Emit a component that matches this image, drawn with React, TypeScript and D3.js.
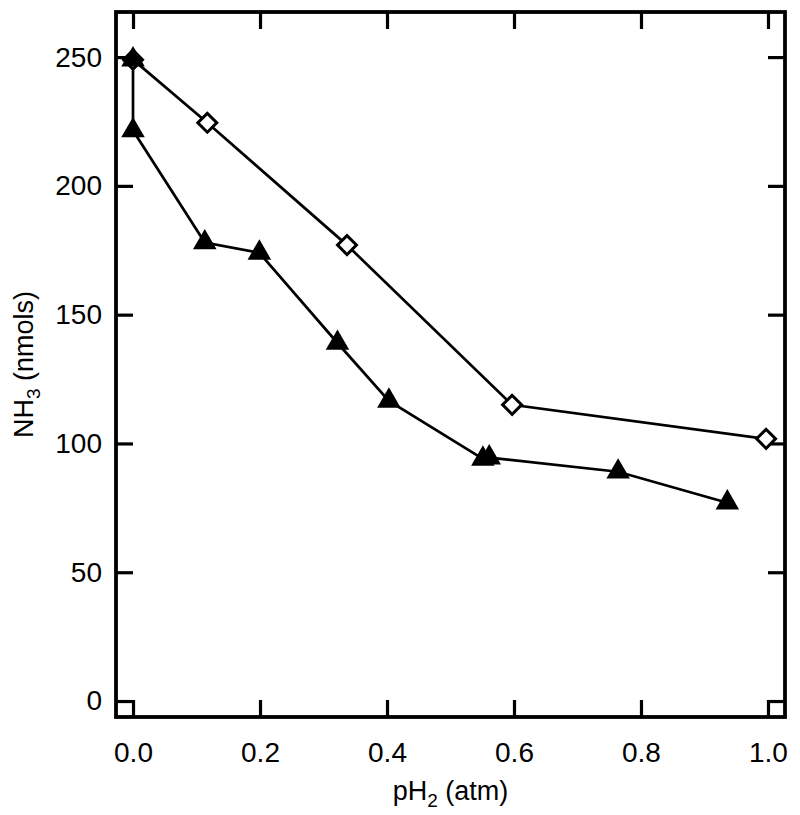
import React, { useEffect, useRef } from 'react';
import * as d3 from 'd3';

// open diamonds
const diamondX = [0, 0.117, 0.337, 0.597, 0.997];
const diamondY = [249, 224.5, 177, 115, 101.8];

// filled triangles
const triX = [0, 0, 0.113, 0.199, 0.322, 0.403, 0.551, 0.561, 0.764, 0.936];
const triY = [249, 221.5, 178, 174, 139, 116.5, 94, 94.5, 89, 77];

const xTicks = [0, 0.2, 0.4, 0.6, 0.8, 1.0];
const yTicks = [0, 50, 100, 150, 200, 250];

const App = () => {
    const svgRef = useRef(null);

    useEffect(() => {
        const svg = d3.select(svgRef.current);
        svg.selectAll('*').remove();

        const left = 116, right = 785, top = 12, bottom = 717;
        const x = d3.scaleLinear().domain([-0.0268, 1.0268]).range([left, right]);
        const y = d3.scaleLinear().domain([-6.2, 267.5]).range([bottom, top]);
        const font = '"Liberation Sans", Arial, sans-serif';
        const tick = 17;

        // axes, ticks pointing inward
        const bottomAxis = svg.append('g')
            .attr('transform', `translate(0,${bottom})`)
            .call(d3.axisBottom(x).tickValues(xTicks).tickFormat(d3.format('.1f')).tickSize(-tick).tickPadding(25));
        const leftAxis = svg.append('g')
            .attr('transform', `translate(${left},0)`)
            .call(d3.axisLeft(y).tickValues(yTicks).tickFormat(d3.format('d')).tickSize(-tick).tickPadding(14));
        svg.append('g')
            .attr('transform', `translate(0,${top})`)
            .call(d3.axisTop(x).tickValues(xTicks).tickFormat(() => '').tickSize(-tick));
        svg.append('g')
            .attr('transform', `translate(${right},0)`)
            .call(d3.axisRight(y).tickValues(yTicks).tickFormat(() => '').tickSize(-tick));

        svg.selectAll('.domain').remove();
        svg.selectAll('.tick line').attr('stroke', '#000').attr('stroke-width', 3.2);
        [bottomAxis, leftAxis].forEach(a => a.selectAll('text')
            .attr('fill', '#000').style('font-family', font).style('font-size', '28px'));
        bottomAxis.selectAll('text').attr('dy', '0.71em');

        // frame
        svg.append('rect')
            .attr('x', left).attr('y', top)
            .attr('width', right - left).attr('height', bottom - top)
            .attr('fill', 'none').attr('stroke', '#000').attr('stroke-width', 3.8);

        const line = d3.line().x(d => x(d[0])).y(d => y(d[1]));
        const diamonds = diamondX.map((v, i) => [v, diamondY[i]]);
        const tris = triX.map((v, i) => [v, triY[i]]);

        svg.append('path').attr('d', line(diamonds))
            .attr('fill', 'none').attr('stroke', '#000').attr('stroke-width', 2.7);
        svg.append('path').attr('d', line(tris))
            .attr('fill', 'none').attr('stroke', '#000').attr('stroke-width', 2.7);

        svg.selectAll('.dia').data(diamonds).enter().append('path')
            .attr('d', d3.symbol(d3.symbolSquare, 180)())
            .attr('transform', d => `translate(${x(d[0])},${y(d[1])}) rotate(45)`)
            .attr('fill', '#fff').attr('stroke', '#000').attr('stroke-width', 3);

        svg.selectAll('.tri').data(tris).enter().append('path')
            .attr('d', d3.symbol(d3.symbolTriangle, 240)())
            .attr('transform', d => `translate(${x(d[0])},${y(d[1])})`)
            .attr('fill', '#000');

        // titles
        const xt = svg.append('text')
            .attr('x', (x(0) + x(1)) / 2).attr('y', 800)
            .attr('text-anchor', 'middle')
            .style('font-family', font).style('font-size', '27px');
        xt.append('tspan').text('pH');
        xt.append('tspan').text('2').attr('dy', 7).style('font-size', '19px');
        xt.append('tspan').text(' (atm)').attr('dy', -7);

        const yt = svg.append('text')
            .attr('transform', `translate(33,${(top + bottom) / 2}) rotate(-90)`)
            .attr('text-anchor', 'middle')
            .style('font-family', font).style('font-size', '27px');
        yt.append('tspan').text('NH');
        yt.append('tspan').text('3').attr('dy', 7).style('font-size', '19px');
        yt.append('tspan').text(' (nmols)').attr('dy', -7);
    }, []);

    return (
        <div style={{ position: 'absolute', left: 0, top: 0 }}>
            <svg ref={svgRef} width={800} height={815} style={{ display: 'block', background: '#fff' }} />
        </div>
    );
};

export default App;
